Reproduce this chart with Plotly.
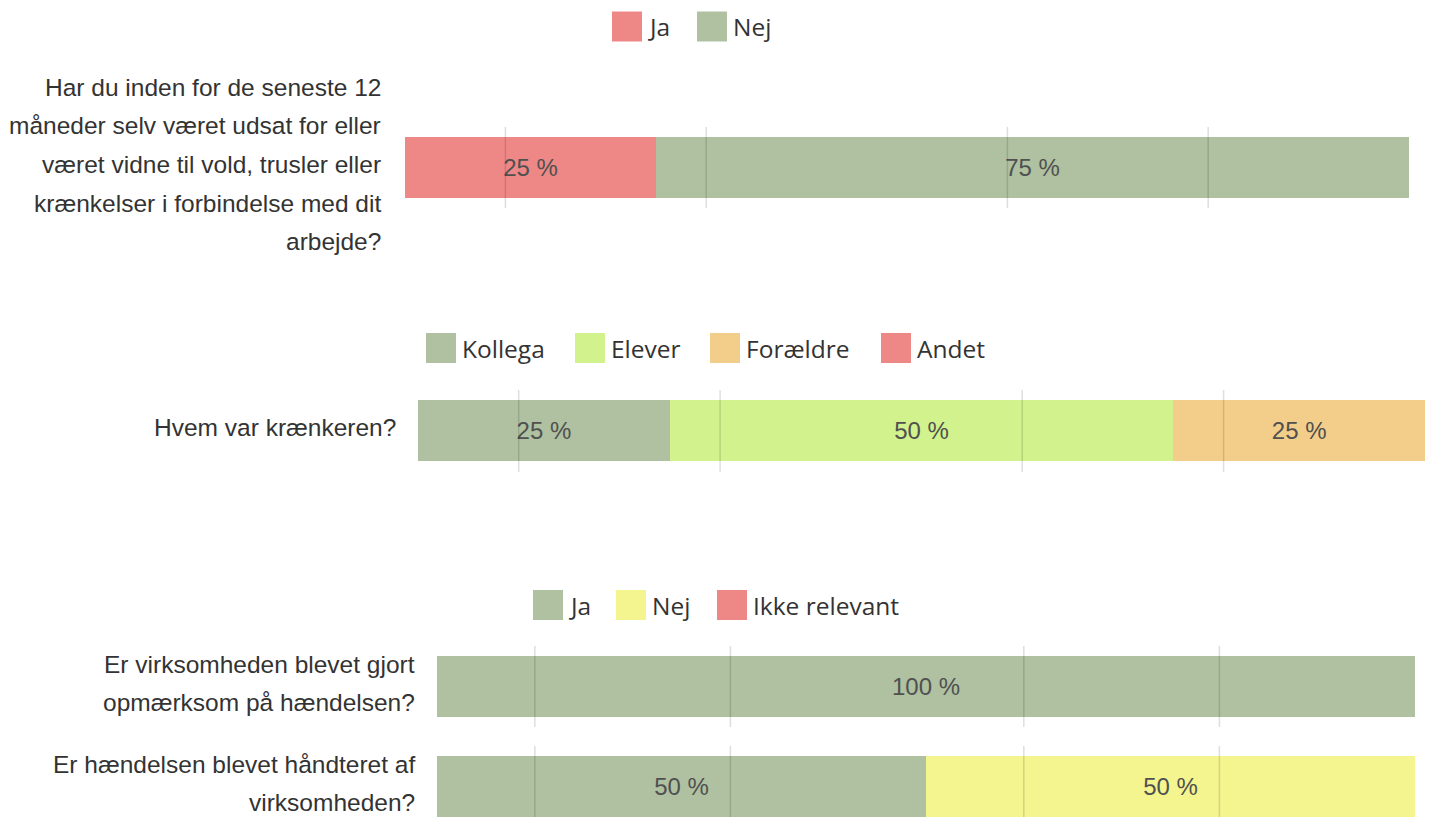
import plotly.graph_objects as go

# ---------------- data ----------------
q1_categories = ["Har du inden for de seneste 12<br>måneder selv været udsat for eller<br>været vidne til vold, trusler eller<br>krænkelser i forbindelse med dit<br>arbejde?"]
q1_series = ["Ja", "Nej"]
q1_values = [[25], [75]]

q2_categories = ["Hvem var krænkeren?"]
q2_series = ["Kollega", "Elever", "Forældre", "Andet"]
q2_values = [[25], [50], [25], [0]]

q3_categories = ["Er virksomheden blevet gjort<br>opmærksom på hændelsen?",
                 "Er hændelsen blevet håndteret af<br>virksomheden?"]
q3_series = ["Ja", "Nej", "Ikke relevant"]
q3_values = [[100, 50], [0, 50], [0, 0]]

grid_ticks = [10, 30, 60, 80]

# ---------------- style ----------------
RED = "#EE8886"
SAGE = "#AFC1A0"
LIME = "#D1F28D"
ORANGE = "#F3CE8A"
YELLOW = "#F4F58F"

q1_colors = [RED, SAGE]
q2_colors = [SAGE, LIME, ORANGE, RED]
q3_colors = [SAGE, YELLOW, RED]

# the page body has an 8px margin; the figure starts at (8, 8)
OFF = 8
W, H = 1433 - OFF, 817 - OFF
LABEL_FONT = "Liberation Sans, Arial, sans-serif"
LEGEND_FONT = "Open Sans, sans-serif"


def px_x(x):
    return (x - OFF) / W


def px_y(y):
    return 1 - (y - OFF) / H


# subplot geometry (screen pixels): x0, x1, ytop, ybottom
subplots = {
    1: dict(x=(405, 1409), y=(127, 208), label_gap=22),
    2: dict(x=(418, 1425), y=(390, 472), label_gap=20),
    3: dict(x=(437, 1415), y=(646, 727), label_gap=20),
    4: dict(x=(437, 1415), y=(746, 817), label_gap=20),
}

fig = go.Figure()


def add_bars(k, categories, series, values, colors):
    for name, vals, col in zip(series, values, colors):
        fig.add_trace(go.Bar(
            x=vals, y=categories, orientation="h", name=name,
            marker=dict(color=col, line=dict(width=0)),
            text=[f"{v} %" if v else "" for v in vals],
            textposition="inside", insidetextanchor="middle",
            textangle=0, constraintext="none",
            insidetextfont=dict(family=LABEL_FONT, size=24, color="#505050"),
            xaxis=f"x{k}" if k > 1 else "x", yaxis=f"y{k}" if k > 1 else "y",
            showlegend=False, hoverinfo="x+name",
        ))


add_bars(1, q1_categories, q1_series, q1_values, q1_colors)
add_bars(2, q2_categories, q2_series, q2_values, q2_colors)
add_bars(3, q3_categories[:1], q3_series, [v[:1] for v in q3_values], q3_colors)
add_bars(4, q3_categories[1:], q3_series, [v[1:] for v in q3_values], q3_colors)

subplot_cats = {1: q1_categories, 2: q2_categories, 3: q3_categories[:1], 4: q3_categories[1:]}

layout = dict(
    width=W, height=H, margin=dict(l=0, r=0, t=0, b=0),
    paper_bgcolor="white", plot_bgcolor="white",
    barmode="stack", bargap=0.24, showlegend=False,
)
annotations = []
shapes = []
for k, g in subplots.items():
    sx = "" if k == 1 else str(k)
    unit_px = 81.0
    h = g["y"][1] - g["y"][0]
    top = 0.5
    bottom = top - h / unit_px
    layout[f"xaxis{sx}"] = dict(
        domain=[px_x(g["x"][0]), px_x(g["x"][1])], range=[0, 100],
        showgrid=False, zeroline=False, showticklabels=False, showline=False,
        anchor=f"y{sx}", fixedrange=True,
    )
    layout[f"yaxis{sx}"] = dict(
        domain=[max(0, px_y(g["y"][1])), px_y(g["y"][0])], range=[bottom, top],
        showgrid=False, zeroline=False, showticklabels=False, showline=False,
        anchor=f"x{sx}", type="category", fixedrange=True,
    )
    # grid lines drawn above bars
    for t in grid_ticks:
        shapes.append(dict(
            type="line", xref=f"x{sx}", yref=f"y{sx} domain",
            x0=t, x1=t, y0=0, y1=1, layer="above",
            line=dict(color="rgba(0,0,0,0.13)", width=1.5),
        ))
    # question labels, one annotation per line
    for cat in subplot_cats[k]:
        lines = cat.split("<br>")
        n = len(lines)
        for i, line in enumerate(lines):
            off = -3 + (i - (n - 1) / 2) * 38.7
            annotations.append(dict(
                text=line, xref="paper", x=px_x(g["x"][0]), xanchor="right",
                xshift=-g["label_gap"], yref=f"y{sx}", y=cat, yanchor="middle",
                yshift=-off, showarrow=False,
                font=dict(family=LABEL_FONT, size=24.5, color="#333333"),
            ))

# manual legends (large square swatches)
legends = [
    dict(cy=26.5, names=q1_series, colors=q1_colors, xs=[612, 697]),
    dict(cy=348, names=q2_series, colors=q2_colors, xs=[426, 575, 710, 881]),
    dict(cy=605, names=q3_series, colors=q3_colors, xs=[533, 616, 717]),
]
SW = 30
for lg in legends:
    for name, col, x in zip(lg["names"], lg["colors"], lg["xs"]):
        shapes.append(dict(
            type="rect", xref="paper", yref="paper",
            x0=px_x(x), x1=px_x(x + SW),
            y0=px_y(lg["cy"] + SW / 2), y1=px_y(lg["cy"] - SW / 2),
            fillcolor=col, line=dict(width=0), layer="above",
        ))
        annotations.append(dict(
            text=name, xref="paper", yref="paper", x=px_x(x + SW + 4), y=px_y(lg["cy"]),
            xanchor="left", yanchor="middle", showarrow=False,
            font=dict(family=LEGEND_FONT, size=24.5, color="#333333"),
        ))

layout["annotations"] = annotations
layout["shapes"] = shapes
fig.update_layout(**layout)
fig.write_html("out.html")
